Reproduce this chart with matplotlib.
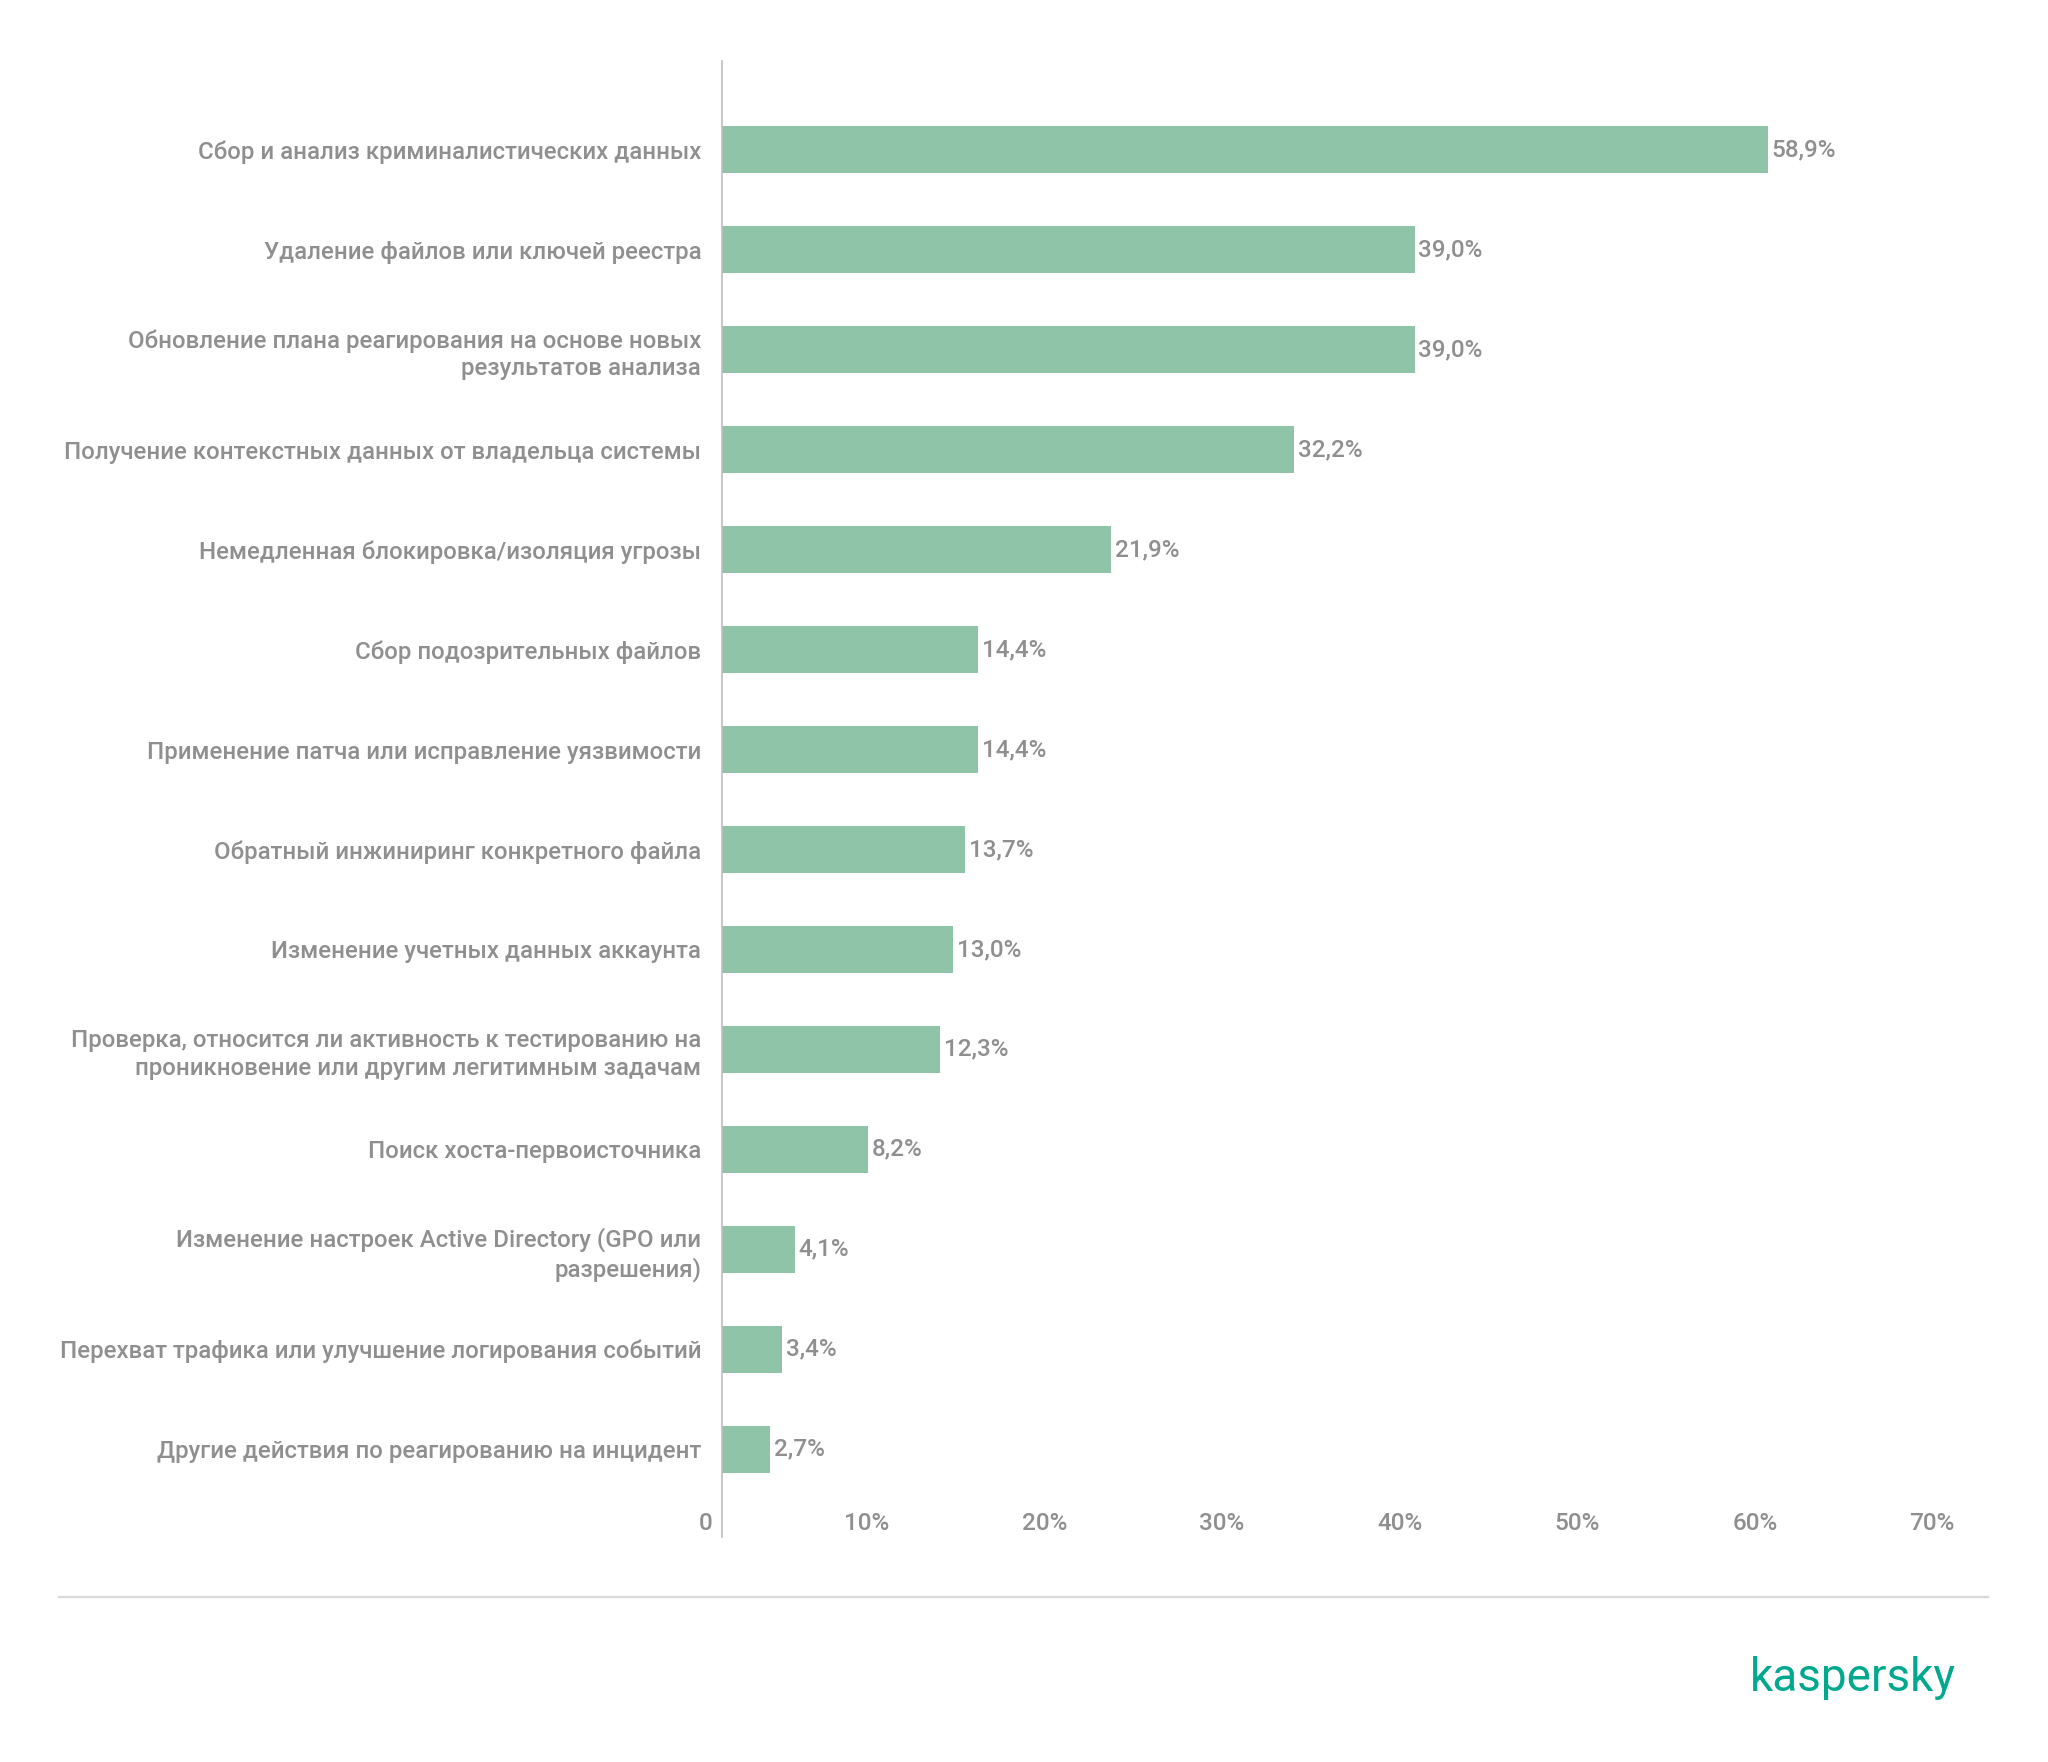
import matplotlib
matplotlib.use("Agg")
import matplotlib.pyplot as plt
import matplotlib.transforms as mtransforms
from matplotlib.lines import Line2D

categories = [
    "Сбор и анализ криминалистических данных",
    "Удаление файлов или ключей реестра",
    "Обновление плана реагирования на основе новых\nрезультатов анализа",
    "Получение контекстных данных от владельца системы",
    "Немедленная блокировка/изоляция угрозы",
    "Сбор подозрительных файлов",
    "Применение патча или исправление уязвимости",
    "Обратный инжиниринг конкретного файла",
    "Изменение учетных данных аккаунта",
    "Проверка, относится ли активность к тестированию на\nпроникновение или другим легитимным задачам",
    "Поиск хоста-первоисточника",
    "Изменение настроек Active Directory (GPO или\nразрешения)",
    "Перехват трафика или улучшение логирования событий",
    "Другие действия по реагированию на инцидент",
]
values = [58.9, 39.0, 39.0, 32.2, 21.9, 14.4, 14.4, 13.7, 13.0, 12.3, 8.2, 4.1, 3.4, 2.7]
xticks = [0, 10, 20, 30, 40, 50, 60, 70]
xtick_labels = ["0", "10%", "20%", "30%", "40%", "50%", "60%", "70%"]

BAR = "#8fc4a8"
TXT = "#8f8f8f"
FONT = ["Roboto", "DejaVu Sans"]
plt.rcParams["font.family"] = FONT

W, H = 2048, 1762
fig = plt.figure(figsize=(W / 100, H / 100), dpi=100)
ax = fig.add_axes([722 / W, 1 - 1537 / H, (1965 - 722) / W, (1537 - 61) / H])

y = list(range(len(categories)))
ax.barh(y, values, height=0.47, color=BAR)
ax.set_xlim(0, 70)
ax.set_ylim(13.88, -0.89)

for yi, v in zip(y, values):
    ax.annotate(f"{v:.1f}".replace(".", ",") + "%", (v, yi), xytext=(2.8, 0),
                textcoords="offset points", va="center", ha="left",
                fontsize=17.5, color=TXT, fontweight="medium")

ax.set_yticks(y)
ax.set_yticklabels(categories, fontsize=17.3, color=TXT, linespacing=1.27,
                   fontweight="medium")
ax.tick_params(axis="y", length=0, pad=15)

ax.set_xticks(xticks)
ax.set_xticklabels(xtick_labels, fontsize=17.5, color=TXT, fontweight="medium")
ax.tick_params(axis="x", length=0, pad=-10)
off = mtransforms.ScaledTranslation(-10 / 100, 0, fig.dpi_scale_trans)
for lab in ax.get_xticklabels():
    lab.set_ha("right")
    lab.set_va("center")
    lab.set_transform(lab.get_transform() + off)

for s in ["top", "right", "bottom"]:
    ax.spines[s].set_visible(False)
ax.spines["left"].set_color("#bdbdbd")
ax.spines["left"].set_linewidth(1.2)

fig.add_artist(Line2D([59 / W, 1988 / W], [1 - 1597 / H, 1 - 1597 / H],
                      transform=fig.transFigure, color="#d9d9d9", linewidth=1.6))
fig.text(1956 / W, 1 - 1678 / H, "kaspersky", ha="right", va="center",
         fontsize=33, color="#00a88e", fontweight="normal")

fig.savefig("out.png", dpi=100, facecolor="white")
